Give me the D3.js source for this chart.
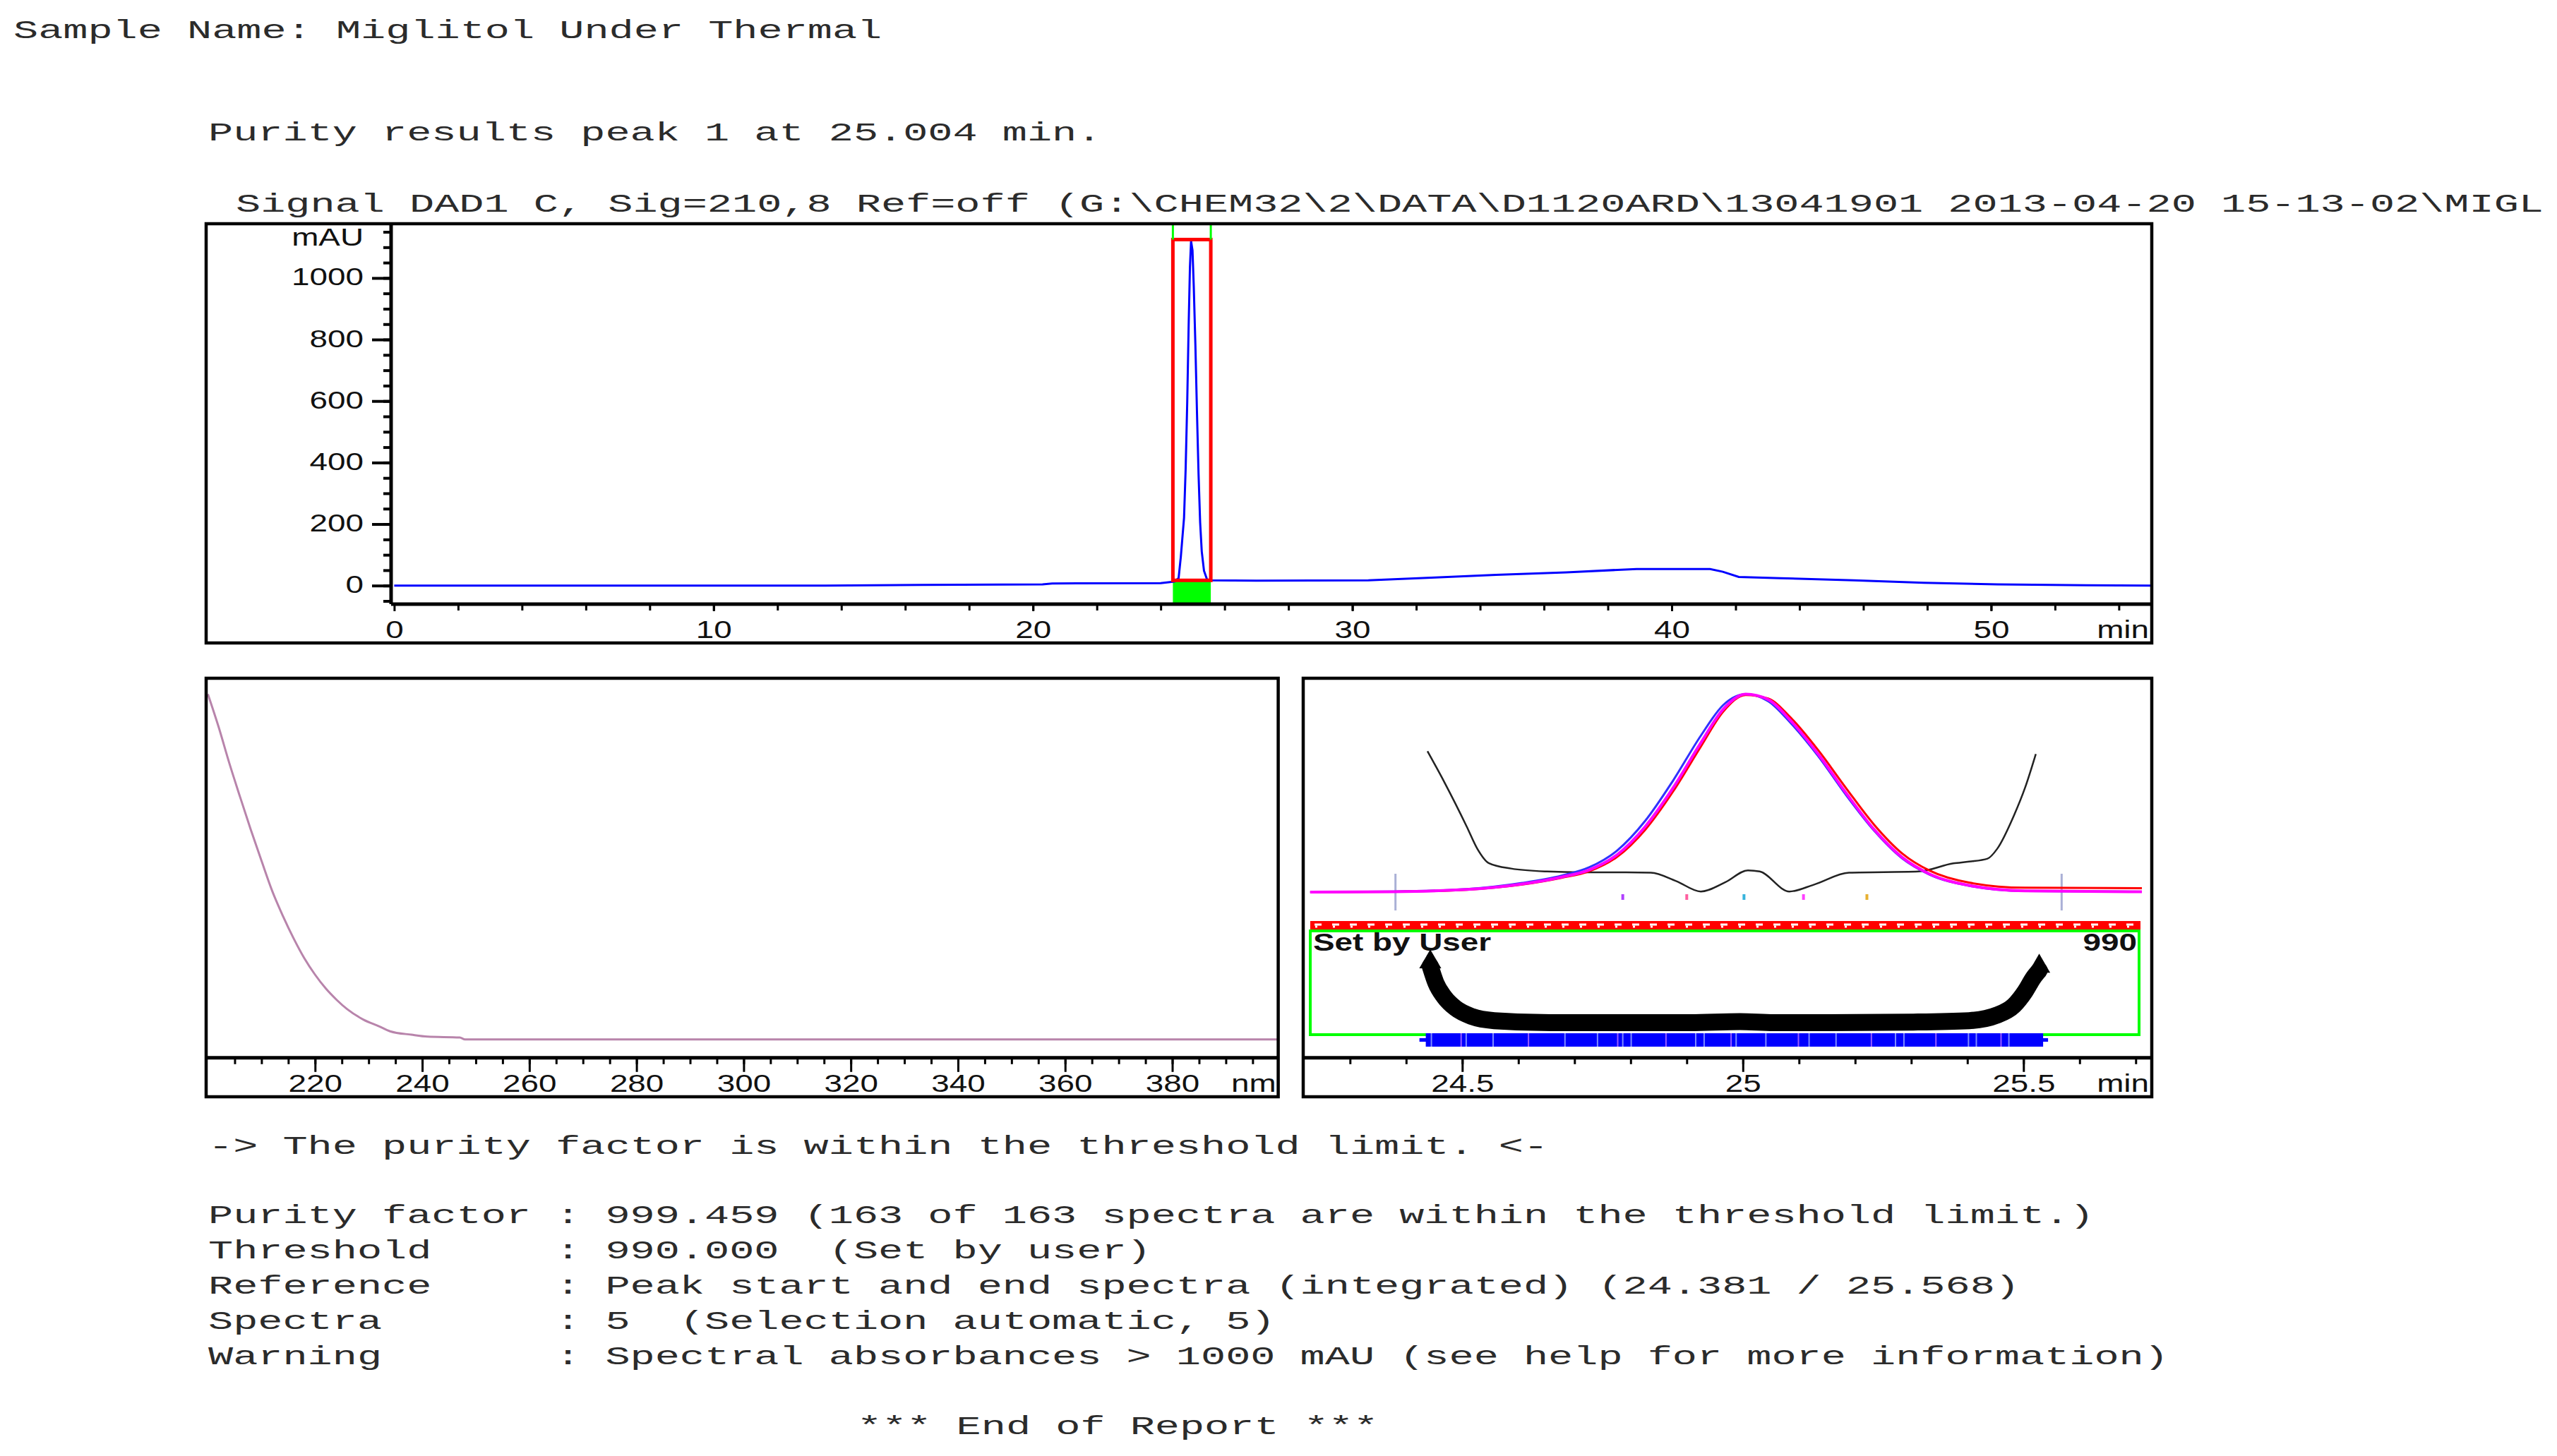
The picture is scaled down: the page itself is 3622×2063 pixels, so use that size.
<!DOCTYPE html>
<html>
<head>
<meta charset="utf-8">
<script src="https://cdn.jsdelivr.net/npm/d3@7"></script>
<style>
  body { margin: 0; background: #fff; }
  .mono { font-family: 'Liberation Mono', 'Courier New', monospace; font-size: 37px; fill: #2b2b2b; white-space: pre; }
  .sans { font-family: 'Liberation Sans', Arial, sans-serif; font-size: 35px; fill: #111; }
</style>
</head>
<body>
<svg id="report"></svg>
<script>
// ---- report text ----
let sampleName = 'Sample Name: Miglitol Under Thermal'
let resultTitle = 'Purity results peak 1 at 25.004 min.'
let signalTitle = 'Signal DAD1 C, Sig=210,8 Ref=off (G:\\CHEM32\\2\\DATA\\D1120ARD\\13041901 2013-04-20 15-13-02\\MIGL'
let statusLine = '-> The purity factor is within the threshold limit. <-'
let summaryLabels = ['Purity factor', 'Threshold', 'Reference', 'Spectra', 'Warning']
let summaryValues = [
  '999.459 (163 of 163 spectra are within the threshold limit.)',
  '990.000  (Set by user)',
  'Peak start and end spectra (integrated) (24.381 / 25.568)',
  '5  (Selection automatic, 5)',
  'Spectral absorbances > 1000 mAU (see help for more information)'
]
let endLine = '*** End of Report ***'

// ---- chromatogram (min, mAU) ----
let chromTimes = [0, 13.5, 16.5, 20.3, 20.6, 24.0, 24.43, 24.56, 24.63, 24.73, 24.78, 24.83, 24.875, 24.915, 24.95,
  24.995, 25.035, 25.085, 25.135, 25.185, 25.235, 25.285, 25.355, 25.45, 25.55, 27, 30.5, 32.6, 34.5, 36.7,
  38.9, 41.2, 41.6, 42.1, 43.4, 45.7, 47.9, 50.2, 53, 55]
let chromMau = [0, 0, 2, 4, 7, 8, 13, 24, 94, 220, 377, 596, 847, 1035, 1120,
  1090, 972, 785, 565, 361, 204, 111, 48, 20, 17, 16, 17, 26, 35, 43,
  54, 54, 45, 28, 24, 17, 9, 4, 1, 0]
let chromXTicks = [0, 10, 20, 30, 40, 50]
let chromYTicks = [0, 200, 400, 600, 800, 1000]
let peakStart = 24.381
let peakEnd = 25.568
let peakBoxMau = [17, 1125]

// ---- spectrum (nm, mAU) ----
let specNm = [200, 202, 204, 206, 208, 210, 212, 214, 216, 218, 220, 222, 224, 226, 229, 232, 234, 238, 241, 247, 248, 400]
let specMau = [2000, 1810, 1600, 1405, 1215, 1035, 860, 715, 585, 470, 375, 295, 230, 175, 115, 75, 47, 27, 16, 11, 0, 0]
let specTicks = [220, 240, 260, 280, 300, 320, 340, 360, 380]

// ---- purity view (min, normalised) ----
let purityTimes = [24.229, 24.378, 24.508, 24.607, 24.677, 24.726, 24.776, 24.826, 24.876, 24.925, 24.965,
  25.005, 25.045, 25.085, 25.134, 25.184, 25.234, 25.284, 25.333, 25.403, 25.503, 25.711]
let purityBlue = [0, 0.003, 0.015, 0.046, 0.083, 0.125, 0.21, 0.36, 0.565, 0.79, 0.945,
  1.0, 0.965, 0.855, 0.688, 0.49, 0.31, 0.17, 0.088, 0.032, 0.005, 0.002]
let purityRed = [0, 0.002, 0.012, 0.038, 0.072, 0.105, 0.178, 0.315, 0.51, 0.735, 0.912,
  0.996, 0.978, 0.882, 0.718, 0.525, 0.34, 0.195, 0.108, 0.048, 0.022, 0.02]
let purityMagenta = [0, 0.002, 0.013, 0.041, 0.076, 0.112, 0.189, 0.331, 0.528, 0.754, 0.924,
  1.0, 0.973, 0.867, 0.698, 0.5, 0.316, 0.175, 0.091, 0.034, 0.006, 0.002]
let simTimes = [24.438, 24.468, 24.508, 24.527, 24.547, 24.587, 24.651, 24.713, 24.792, 24.836, 24.881, 24.925, 24.969,
  25.009, 25.030, 25.083, 25.127, 25.189, 25.313, 25.375, 25.403, 25.436, 25.453, 25.483, 25.503, 25.522]
let simValues = [0.712, 0.556, 0.331, 0.218, 0.147, 0.119, 0.104, 0.1, 0.1, 0.098, 0.056, 0.003, 0.05,
  0.11, 0.104, 0.003, 0.038, 0.098, 0.104, 0.145, 0.154, 0.169, 0.218, 0.387, 0.529, 0.698]
let selectedSpectra = [24.786, 24.900, 25.002, 25.108, 25.221]
let selectedColors = ['#b040ff', '#ff5fa0', '#38b4dc', '#ff40ff', '#e8b030']
let ratioTimes = [24.443, 24.453, 24.468, 24.488, 24.517, 24.557, 24.657, 24.806, 24.906, 24.995,
  25.055, 25.154, 25.304, 25.403, 25.453, 25.483, 25.503, 25.518, 25.528]
let ratioValues = [0.645, 0.481, 0.343, 0.233, 0.151, 0.110, 0.090, 0.090, 0.090, 0.101,
  0.090, 0.090, 0.096, 0.110, 0.165, 0.260, 0.398, 0.535, 0.603]
let spectraBand = [24.435, 25.535]
let streakTimes = [24.445, 24.498, 24.507, 24.555, 24.618, 24.683, 24.741, 24.777, 24.786, 24.801, 24.863,
  24.916, 24.931, 24.979, 24.988, 25.041, 25.099, 25.118, 25.166, 25.229, 25.272, 25.287, 25.344,
  25.402, 25.416, 25.460, 25.474]
let purityTicks = [24.5, 25, 25.5]
let threshold = 990

// ---- page ----
const W = 3622
const H = 2063
const SX = 1.31 // plot labels are stretched sideways
const CHAR_W = 35.15

let svg = d3.select('#report').attr('width', W).attr('height', H)
svg.append('rect').attr('width', W).attr('height', H).attr('fill', '#fff')

function monoLine(x, y, s) {
  svg
    .append('text')
    .attr('class', 'mono')
    .attr('x', x)
    .attr('y', y)
    .attr('textLength', s.length * CHAR_W)
    .attr('lengthAdjust', 'spacingAndGlyphs')
    .text(s)
}

function sansLabel(g, x, y, s, anchor, bold) {
  g.append('text')
    .attr('class', 'sans')
    .attr('transform', 'translate(' + x + ',' + y + ') scale(' + SX + ',1)')
    .attr('text-anchor', anchor)
    .attr('font-weight', bold ? 'bold' : null)
    .text(s)
}

function styleAxis(g, strokeWidth) {
  g.select('.domain').remove()
  g.selectAll('.tick line').attr('stroke', '#000').attr('stroke-width', strokeWidth)
  g.selectAll('.tick text').attr('class', 'sans')
}

function bottomAxis(parent, scale, y, minorValues, majorValues, minorLen, majorLen) {
  let minor = parent.append('g').attr('transform', 'translate(0,' + y + ')')
    .call(d3.axisBottom(scale).tickValues(minorValues).tickSize(minorLen).tickFormat(''))
  styleAxis(minor, 3)
  let major = parent.append('g').attr('transform', 'translate(0,' + y + ')')
    .call(d3.axisBottom(scale).tickValues(majorValues).tickSize(majorLen).tickFormat(d3.format('~g')))
  styleAxis(major, 3)
  major.selectAll('.tick text')
    .attr('y', 48)
    .attr('dy', 0)
    .attr('transform', 'scale(' + SX + ',1)')
}

// ---- header text ----
monoLine(19, 54, sampleName)
monoLine(295, 199, resultTitle)
monoLine(334, 300, signalTitle)

// ---- chromatogram ----
let chrom = { left: 292, right: 3048, top: 317, bottom: 911, axisX: 554, axisY: 856 }
let xChrom = d3.scaleLinear().domain([0, 55]).range([558.4, 3046.6])
let yChrom = d3.scaleLinear().domain([0, 1000]).range([829.7, 393.9])
let gTop = svg.append('g')

svg.append('defs').append('clipPath').attr('id', 'clip-top')
  .append('rect')
  .attr('x', chrom.axisX).attr('y', chrom.top)
  .attr('width', chrom.right - chrom.axisX).attr('height', chrom.axisY - chrom.top)

let yMinor = gTop.append('g').attr('transform', 'translate(' + chrom.axisX + ',0)')
  .call(d3.axisLeft(yChrom).tickValues(d3.range(-50, 1151, 50)).tickSize(11).tickFormat(''))
styleAxis(yMinor, 4)
let yMajor = gTop.append('g').attr('transform', 'translate(' + chrom.axisX + ',0)')
  .call(d3.axisLeft(yChrom).tickValues(chromYTicks).tickSize(27).tickFormat(d3.format('~g')))
styleAxis(yMajor, 4)
yMajor.selectAll('.tick text')
  .attr('x', -39 / SX)
  .attr('dy', 0)
  .attr('y', 10)
  .attr('transform', 'scale(' + SX + ',1)')

bottomAxis(gTop, xChrom, chrom.axisY, d3.range(2, 55, 2), chromXTicks, 9, 10)
sansLabel(gTop, 515, 348, 'mAU', 'end')
sansLabel(gTop, 3044, 904, 'min', 'end')

// integration window
gTop.append('rect')
  .attr('x', xChrom(peakStart))
  .attr('y', yChrom(peakBoxMau[0]))
  .attr('width', xChrom(peakEnd) - xChrom(peakStart))
  .attr('height', chrom.axisY - yChrom(peakBoxMau[0]))
  .attr('fill', '#00ff00')

let chromLine = d3.line()
  .x((d, i) => xChrom(chromTimes[i]))
  .y(d => yChrom(d))
gTop.append('path')
  .datum(chromMau)
  .attr('d', chromLine)
  .attr('clip-path', 'url(#clip-top)')
  .attr('fill', 'none')
  .attr('stroke', '#0000ff')
  .attr('stroke-width', 3)

gTop.append('rect')
  .attr('x', xChrom(peakStart))
  .attr('y', yChrom(peakBoxMau[1]))
  .attr('width', xChrom(peakEnd) - xChrom(peakStart))
  .attr('height', yChrom(peakBoxMau[0]) - yChrom(peakBoxMau[1]))
  .attr('fill', 'none')
  .attr('stroke', '#ff0000')
  .attr('stroke-width', 5)

gTop.selectAll('.win-mark')
  .data([peakStart, peakEnd])
  .enter()
  .append('line')
  .attr('class', 'win-mark')
  .attr('x1', d => xChrom(d))
  .attr('x2', d => xChrom(d))
  .attr('y1', chrom.top)
  .attr('y2', yChrom(peakBoxMau[1]))
  .attr('stroke', '#00ff00')
  .attr('stroke-width', 3)

gTop.append('rect')
  .attr('x', chrom.left).attr('y', chrom.top)
  .attr('width', chrom.right - chrom.left).attr('height', chrom.bottom - chrom.top)
  .attr('fill', 'none').attr('stroke', '#000').attr('stroke-width', 4.5)
gTop.append('line')
  .attr('x1', chrom.axisX).attr('x2', chrom.axisX).attr('y1', chrom.top).attr('y2', chrom.axisY)
  .attr('stroke', '#000').attr('stroke-width', 5)
gTop.append('line')
  .attr('x1', chrom.axisX).attr('x2', chrom.right).attr('y1', chrom.axisY).attr('y2', chrom.axisY)
  .attr('stroke', '#000').attr('stroke-width', 5)

// ---- spectrum ----
let spec = { left: 292, right: 1810.6, top: 961, bottom: 1554, axisY: 1498.8 }
let xSpec = d3.scaleLinear().domain([200, 400]).range([294.5, 1812.3])
let ySpec = d3.scaleLinear().domain([0, 2000]).range([1472.7, 983.6])
let gSpec = svg.append('g')

bottomAxis(gSpec, xSpec, spec.axisY, d3.range(205, 400, 5), specTicks, 9, 20)
sansLabel(gSpec, spec.right - 3, 1547, 'nm', 'end')

let specLine = d3.line()
  .x((d, i) => xSpec(specNm[i]))
  .y(d => ySpec(d))
  .curve(d3.curveMonotoneX)
gSpec.append('path')
  .datum(specMau)
  .attr('d', specLine)
  .attr('fill', 'none')
  .attr('stroke', '#b884ab')
  .attr('stroke-width', 3)

gSpec.append('rect')
  .attr('x', spec.left).attr('y', spec.top)
  .attr('width', spec.right - spec.left).attr('height', spec.bottom - spec.top)
  .attr('fill', 'none').attr('stroke', '#000').attr('stroke-width', 4.5)
gSpec.append('line')
  .attr('x1', spec.left).attr('x2', spec.right).attr('y1', spec.axisY).attr('y2', spec.axisY)
  .attr('stroke', '#000').attr('stroke-width', 5)

// ---- purity view ----
let pur = { left: 1846, right: 3048, top: 961, bottom: 1554, axisY: 1498.8 }
let xPur = d3.scaleLinear().domain([24.2166, 25.7286]).range([pur.left, pur.right])
let peakY = d3.scaleLinear().domain([0, 1]).range([1264, 983.6])
let lowerY = d3.scaleLinear().domain([0, 1]).range([1462, 1318])
let gPur = svg.append('g')

bottomAxis(gPur, xPur, pur.axisY, d3.range(24.3, 25.75, 0.1), purityTicks, 9, 20)
sansLabel(gPur, pur.right - 4, 1547, 'min', 'end')

// reference spectra markers
gPur.selectAll('.ref-mark')
  .data([peakStart, peakEnd])
  .enter()
  .append('line')
  .attr('class', 'ref-mark')
  .attr('x1', d => xPur(d))
  .attr('x2', d => xPur(d))
  .attr('y1', peakY(0) - 26)
  .attr('y2', peakY(0) + 26)
  .attr('stroke', '#aab0d6')
  .attr('stroke-width', 3)

let simLine = d3.line()
  .x((d, i) => xPur(simTimes[i]))
  .y(d => peakY(d))
  .curve(d3.curveMonotoneX)
gPur.append('path')
  .datum(simValues)
  .attr('d', simLine)
  .attr('fill', 'none')
  .attr('stroke', '#222')
  .attr('stroke-width', 2.5)

let peakLine = d3.line()
  .x((d, i) => xPur(purityTimes[i]))
  .y(d => peakY(d))
  .curve(d3.curveMonotoneX)
let peakSeries = [
  { values: purityBlue, color: '#3030ff', width: 3 },
  { values: purityRed, color: '#ff0000', width: 3 },
  { values: purityMagenta, color: '#ff00ff', width: 4 }
]
gPur.selectAll('.peak-curve')
  .data(peakSeries)
  .enter()
  .append('path')
  .attr('class', 'peak-curve')
  .attr('d', d => peakLine(d.values))
  .attr('fill', 'none')
  .attr('stroke', d => d.color)
  .attr('stroke-width', d => d.width)

gPur.selectAll('.sel-mark')
  .data(selectedSpectra)
  .enter()
  .append('rect')
  .attr('class', 'sel-mark')
  .attr('x', d => xPur(d) - 2)
  .attr('y', 1267)
  .attr('width', 4)
  .attr('height', 8)
  .attr('fill', (d, i) => selectedColors[i])

// threshold band
let bandLeft = pur.left + 10
let bandRight = pur.right - 16
gPur.append('rect')
  .attr('x', bandLeft).attr('y', 1305)
  .attr('width', bandRight - bandLeft).attr('height', 14)
  .attr('fill', '#ff0000')
gPur.append('line')
  .attr('x1', bandLeft + 6).attr('x2', bandRight).attr('y1', 1310).attr('y2', 1310)
  .attr('stroke', '#fff').attr('stroke-width', 3).attr('stroke-dasharray', '10,15')
gPur.append('line')
  .attr('x1', bandLeft + 7).attr('x2', bandRight).attr('y1', 1313).attr('y2', 1313)
  .attr('stroke', '#fff').attr('stroke-width', 3).attr('stroke-dasharray', '3,22')
gPur.append('rect')
  .attr('x', bandLeft).attr('y', 1319)
  .attr('width', bandRight - bandLeft - 2).attr('height', 147)
  .attr('fill', 'none').attr('stroke', '#00ff00').attr('stroke-width', 4)
sansLabel(gPur, bandLeft + 4, 1347, 'Set by User', 'start', true)
sansLabel(gPur, bandRight - 5, 1347, String(threshold), 'end', true)

// purity ratio of all spectra
let ratioLine = d3.line()
  .x((d, i) => xPur(ratioTimes[i]))
  .y(d => lowerY(d))
  .curve(d3.curveMonotoneX)
gPur.append('path')
  .datum(ratioValues)
  .attr('d', ratioLine)
  .attr('fill', 'none')
  .attr('stroke', '#000')
  .attr('stroke-width', 24)
  .attr('stroke-linecap', 'round')
  .attr('stroke-linejoin', 'round')
gPur.selectAll('.ratio-end')
  .data([0, ratioTimes.length - 1])
  .enter()
  .append('path')
  .attr('class', 'ratio-end')
  .attr('d', d3.symbol(d3.symbolTriangle, 420))
  .attr('transform', d => 'translate(' + xPur(ratioTimes[d]) + ',' + (lowerY(ratioValues[d]) - 6) + ')')
  .attr('fill', '#000')

// spectra acquired
gPur.append('line')
  .attr('x1', xPur(spectraBand[0]) - 9).attr('x2', xPur(spectraBand[1]) + 7)
  .attr('y1', 1473.5).attr('y2', 1473.5)
  .attr('stroke', '#0000ff').attr('stroke-width', 5)
gPur.append('rect')
  .attr('x', xPur(spectraBand[0])).attr('y', 1464)
  .attr('width', xPur(spectraBand[1]) - xPur(spectraBand[0])).attr('height', 19)
  .attr('fill', '#0000ff')
gPur.selectAll('.streak')
  .data(streakTimes)
  .enter()
  .append('line')
  .attr('class', 'streak')
  .attr('x1', d => xPur(d))
  .attr('x2', d => xPur(d))
  .attr('y1', 1464)
  .attr('y2', 1483)
  .attr('stroke', (d, i) => (i % 3 === 1 ? '#9a5cff' : '#7f8cff'))
  .attr('stroke-width', 2)

gPur.append('rect')
  .attr('x', pur.left).attr('y', pur.top)
  .attr('width', pur.right - pur.left).attr('height', pur.bottom - pur.top)
  .attr('fill', 'none').attr('stroke', '#000').attr('stroke-width', 4.5)
gPur.append('line')
  .attr('x1', pur.left).attr('x2', pur.right).attr('y1', pur.axisY).attr('y2', pur.axisY)
  .attr('stroke', '#000').attr('stroke-width', 5)

// ---- summary text ----
monoLine(295, 1635, statusLine)
summaryLabels.forEach((label, i) => {
  monoLine(295, 1733 + i * 49.9, label.padEnd(14) + ': ' + summaryValues[i])
})
monoLine(1214, 2032, endLine)
</script>
</body>
</html>
